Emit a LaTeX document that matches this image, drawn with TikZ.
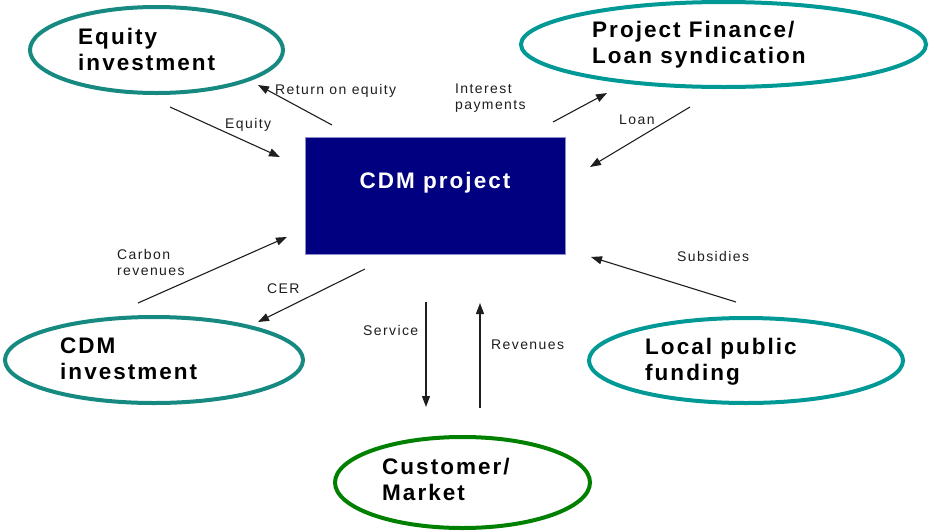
\documentclass[tikz,border=0pt]{standalone}
\usepackage{fontspec}
\setmainfont{Liberation Sans}
\newfontfamily\headfont{Liberation Sans}[LetterSpace=9]
\newfontfamily\labelfont{Liberation Sans}[LetterSpace=10]
\usetikzlibrary{arrows.meta,shapes.geometric}

\definecolor{tealdark}{RGB}{22,138,128}
\definecolor{teallight}{RGB}{0,153,150}
\definecolor{marketgreen}{RGB}{0,128,0}
\definecolor{projnavy}{RGB}{0,0,128}
\definecolor{projedge}{RGB}{140,140,200}
\definecolor{ink}{RGB}{30,30,30}

% multi-line texts are placed by the baseline of their last line
\tikzset{
  hub/.style={ellipse, draw, line width=4pt, inner sep=0pt},
  headtext/.style={anchor=base west, align=left, inner sep=0pt,
    font=\headfont\bfseries\fontsize{22.5}{25.5}\selectfont},
  flowlabel/.style={anchor=base west, align=left, inner sep=0pt,
    font=\labelfont\fontsize{14}{16}\selectfont, text=ink},
  flow/.style={line width=1.1pt, draw=ink, -{Triangle[length=11pt,width=8pt]}},
}

\begin{document}
\begin{tikzpicture}[x=1pt, y=-1pt]
\useasboundingbox (0,0) rectangle (930,531);

% central project box
\node[draw=projedge, line width=0.8pt, fill=projnavy, inner sep=0pt,
      minimum width=260pt, minimum height=117pt] (project) at (435,195.5) {};
\node[anchor=base, inner sep=0pt, text=white,
      font=\headfont\bfseries\fontsize{22.5}{25.5}\selectfont] (projecttext) at (435,188) {CDM project};

% surrounding parties
\node[hub, draw=tealdark, minimum width=253pt, minimum height=86pt] (equity) at (156.5,50) {};
\node[headtext] (equitytext) at (78,70) {Equity\\investment};

\node[hub, draw=teallight, minimum width=405pt, minimum height=85pt] (finance) at (723.5,44.5) {};
\node[headtext] (financetext) at (592,63) {Project Finance/\\Loan syndication};

\node[hub, draw=tealdark, minimum width=298pt, minimum height=86pt] (cdminv) at (154,360) {};
\node[headtext] (cdminvtext) at (60,379) {CDM\\investment};

\node[hub, draw=marketgreen, minimum width=255pt, minimum height=91pt] (market) at (462.5,482.5) {};
\node[headtext] (markettext) at (382,500) {Customer/\\Market};

\node[hub, draw=teallight, minimum width=314pt, minimum height=85pt] (local) at (746,360.5) {};
\node[headtext] (localtext) at (645,380) {Local public\\funding};

% arrow end points
\coordinate (eqS) at (170,107);  \coordinate (eqE) at (280,157);
\coordinate (roeS) at (332,125); \coordinate (roeE) at (258,85);
\coordinate (intS) at (553,122); \coordinate (intE) at (607,93);
\coordinate (loanS) at (690,107); \coordinate (loanE) at (590,167);
\coordinate (carbS) at (138,303); \coordinate (carbE) at (287,237);
\coordinate (cerS) at (365,269); \coordinate (cerE) at (258,322);
\coordinate (servS) at (426,302); \coordinate (servE) at (426,407);
\coordinate (revS) at (480,408); \coordinate (revE) at (480,303);
\coordinate (subS) at (736,302); \coordinate (subE) at (591,257);

% money and service flows
\draw[flow] (eqS) -- (eqE);
\draw[flow] (roeS) -- (roeE);
\draw[flow] (intS) -- (intE);
\draw[flow] (loanS) -- (loanE);
\draw[flow] (carbS) -- (carbE);
\draw[flow] (cerS) -- (cerE);
\draw[flow] (servS) -- (servE);
\draw[flow] (revS) -- (revE);
\draw[flow] (subS) -- (subE);

% flow labels
\node[flowlabel] (eqlab) at (225,128) {Equity};
\node[flowlabel] (roelab) at (275,94) {Return on equity};
\node[flowlabel] (intlab) at (455,109) {Interest\\payments};
\node[flowlabel] (loanlab) at (619,124) {Loan};
\node[flowlabel] (carblab) at (117,275) {Carbon\\revenues};
\node[flowlabel] (cerlab) at (267,293) {CER};
\node[flowlabel] (servlab) at (363,335) {Service};
\node[flowlabel] (revlab) at (491,349) {Revenues};
\node[flowlabel] (sublab) at (677,261) {Subsidies};
\end{tikzpicture}
\end{document}
